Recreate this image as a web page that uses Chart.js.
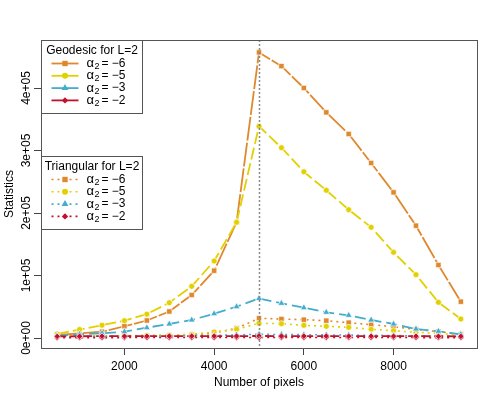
<!DOCTYPE html>
<html><head><meta charset="utf-8">
<script src="https://cdn.jsdelivr.net/npm/chart.js@4"></script>
<style>html,body{margin:0;padding:0;background:#fff}canvas{display:block}</style>
</head><body>
<canvas id="c" width="498" height="399"></canvas>
<script>
// ---- data ----
const pixels = [500,1000,1500,2000,2500,3000,3500,4000,4500,5000,5500,6000,6500,7000,7500,8000,8500,9000,9500];
const geoM6 = [4800,7500,10100,18800,28000,42400,68800,107700,185100,457000,435000,400000,361000,326400,280000,233000,179700,116800,58100];
const geoM5 = [6500,13500,20500,27700,38200,56500,82700,123200,185100,338700,304500,266000,236300,205300,177100,137100,101300,57100,30400];
const geoM3 = [3500,5900,7500,10100,16500,22400,28800,38900,50100,63200,55500,48500,41100,36300,28800,22400,14400,10700,5900];
const geoM2 = [2600,2800,2900,3000,3000,3100,3100,3100,3100,3200,3100,3100,3100,3000,3000,3000,2900,2800,2700];
const triM6 = [2500,3000,3200,3500,3800,4000,5000,8000,15500,31500,30400,29300,27700,24500,21300,18100,13900,10100,5900];
const triM5 = [2800,3200,3500,3800,4200,4800,5900,9600,14000,23500,22900,20300,18700,17100,13900,11700,9100,7500,4300];
const triM3 = [1800,2200,2500,2800,3000,3300,3700,4200,5000,5900,5600,5300,5000,4700,4300,3900,3500,3000,2500];
const triM2 = [500,600,600,700,700,700,700,800,800,800,800,800,800,700,700,700,700,600,600];
const xTicks = [2000,4000,6000,8000];
const yTicks = [0,100000,200000,300000,400000];
const yTickLabels = ['0e+00','1e+05','2e+05','3e+05','4e+05'];
const alphaValues = ['\u22126','\u22125','\u22123','\u22122'];
const legendTitles = ['Geodesic for L=2','Triangular for L=2'];
const markVertical = 5000;

// ---- styles ----
const FONT = '"Liberation Sans", Arial, sans-serif';
const colors = ['#E0882C','#E2D000','#44ADCC','#C3112C'];
const pStyles = ['rect','circle','triangle','rectRot'];
const pRadius = [3.8,3,4,3.2];
const geoDash = [[24,2],[12,4],[11,5],[9,4]];
const triDash = [2,4];

const geo = [geoM6,geoM5,geoM3,geoM2];
const tri = [triM6,triM5,triM3,triM2];
const datasets = [];
let k = 0;
tri.forEach((arr,i)=>{
  datasets.push({data: pixels.map((x,j)=>({x, y: arr[j]})), borderColor: colors[i], backgroundColor: colors[i],
    borderWidth: 1.6, borderDash: triDash, pointStyle: pStyles[i], pointRadius: pRadius[i],
    pointBackgroundColor: colors[i], pointBorderColor: 'rgba(255,255,255,0.7)', pointBorderWidth: 1,
    tension: 0, fill: false, order: -(k++)});
});
geo.forEach((arr,i)=>{
  datasets.push({data: pixels.map((x,j)=>({x, y: arr[j]})), borderColor: colors[i], backgroundColor: colors[i],
    borderWidth: 1.8, borderDash: geoDash[i], pointStyle: pStyles[i], pointRadius: pRadius[i],
    pointBackgroundColor: colors[i], pointBorderColor: 'rgba(255,255,255,0.7)', pointBorderWidth: 1,
    tension: 0, fill: false, order: -(k++)});
});

const custom = {
  id: 'custom',
  afterDatasetsDraw(chart){
    const ctx = chart.ctx, xs = chart.scales.x, a = chart.chartArea;
    const px = Math.round(xs.getPixelForValue(markVertical)) + 0.5;
    ctx.save();
    ctx.strokeStyle = '#8a8a8a'; ctx.lineWidth = 1.5; ctx.setLineDash([2,2]);
    ctx.beginPath(); ctx.moveTo(px, a.top); ctx.lineTo(px, a.bottom); ctx.stroke();
    ctx.restore();
  },
  afterDraw(chart){
    const ctx = chart.ctx, a = chart.chartArea, ys = chart.scales.y;
    ctx.save();
    ctx.strokeStyle = '#555'; ctx.lineWidth = 1;
    ctx.strokeRect(Math.round(a.left)+0.5, Math.round(a.top)+0.5, Math.round(a.right-a.left), Math.round(a.bottom-a.top));
    ctx.fillStyle = '#000'; ctx.font = '12px ' + FONT;
    yTicks.forEach((v,i)=>{
      const y = ys.getPixelForValue(v);
      ctx.save(); ctx.translate(27, y); ctx.rotate(-Math.PI/2);
      ctx.textAlign = 'center'; ctx.textBaseline = 'middle';
      ctx.fillText(yTickLabels[i], 0, 0); ctx.restore();
    });
    ctx.save(); ctx.translate(10, (a.top+a.bottom)/2); ctx.rotate(-Math.PI/2);
    ctx.textAlign = 'center'; ctx.textBaseline = 'middle'; ctx.font = '12px ' + FONT;
    ctx.fillText('Statistics', 0, 0); ctx.restore();
    const boxes = [{top: 40, dash: null, lw: 1.8}, {top: 156, dash: triDash, lw: 1.6}];
    boxes.forEach((b, bi)=>{
      const L = Math.round(a.left)+0.5, W = 101, H = 73, T = b.top+0.5;
      ctx.fillStyle = '#fff'; ctx.fillRect(L, T, W, H);
      ctx.strokeStyle = '#555'; ctx.lineWidth = 1; ctx.setLineDash([]);
      ctx.strokeRect(L, T, W, H);
      ctx.fillStyle = '#000'; ctx.font = '12px ' + FONT; ctx.textAlign = 'center'; ctx.textBaseline = 'middle';
      ctx.fillText(legendTitles[bi], L + W/2, T + 10);
      for (let i=0;i<4;i++){
        const y = T + 23 + i*12.3;
        ctx.strokeStyle = colors[i]; ctx.lineWidth = b.lw; ctx.setLineDash(b.dash || []);
        ctx.beginPath(); ctx.moveTo(L+10, y); ctx.lineTo(L+37, y); ctx.stroke();
        ctx.setLineDash([]);
        ctx.fillStyle = colors[i];
        Chart.helpers.drawPoint(ctx, {pointStyle: pStyles[i], radius: pRadius[i], borderWidth: 0}, L+23.5, y);
        ctx.fillStyle = '#000'; ctx.textAlign = 'left'; ctx.textBaseline = 'middle';
        ctx.font = '13px ' + FONT; ctx.fillText('\u03B1', L+45, y);
        ctx.font = '9px ' + FONT; ctx.fillText('2', L+53, y+3);
        ctx.font = '12px ' + FONT; ctx.fillText('= ' + alphaValues[i], L+60, y);
      }
    });
    ctx.restore();
  }
};

new Chart(document.getElementById('c'), {
  type: 'line',
  data: {datasets},
  options: {
    responsive: false, animation: false,
    layout: {padding: {left: 0, right: 21, top: 40, bottom: 9}},
    plugins: {legend: {display: false}, tooltip: {enabled: false}},
    scales: {
      x: {type: 'linear', min: 140, max: 9860,
        afterBuildTicks: s => { s.ticks = xTicks.map(v=>({value: v})); },
        afterFit: s => { s.height = 42; },
        ticks: {autoSkip: false, maxRotation: 0, padding: 4, color: '#000', font: {family: FONT, size: 12},
          callback: v => String(v)},
        grid: {drawOnChartArea: false, drawTicks: true, tickLength: 7, color: '#444', lineWidth: 1},
        border: {display: false},
        title: {display: true, text: 'Number of pixels', color: '#000', font: {family: FONT, size: 12}, padding: {top: 0, bottom: 0}}
      },
      y: {type: 'linear', min: -16000, max: 476800,
        afterBuildTicks: s => { s.ticks = yTicks.map(v=>({value: v})); },
        afterFit: s => { s.width = 41; },
        ticks: {callback: () => '', padding: 0},
        grid: {drawOnChartArea: false, drawTicks: true, tickLength: 7, color: '#444', lineWidth: 1},
        border: {display: false}
      }
    }
  },
  plugins: [custom]
});
</script>
</body></html>
